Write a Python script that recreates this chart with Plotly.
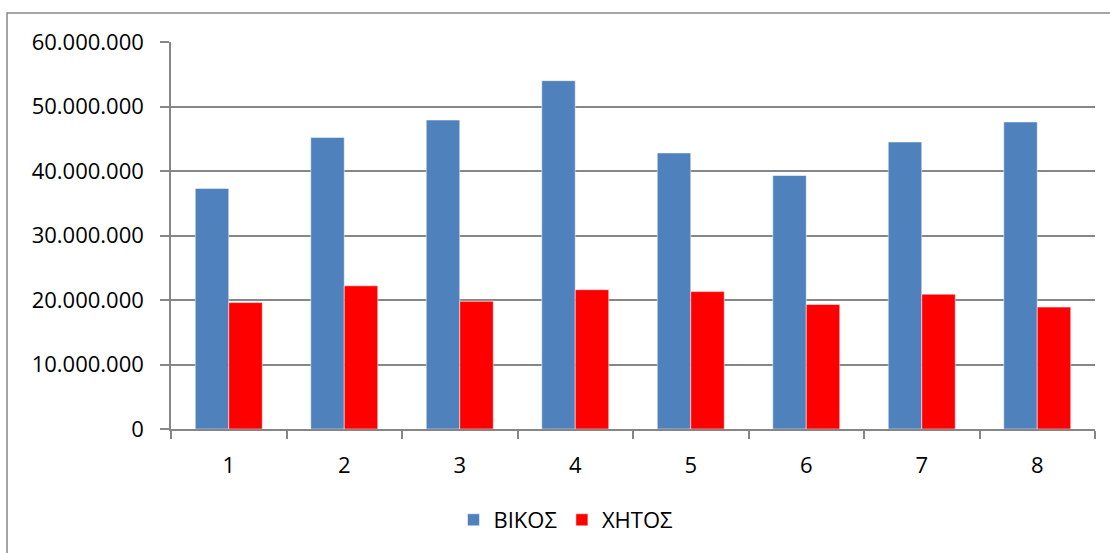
import plotly.graph_objects as go

categories = ["1", "2", "3", "4", "5", "6", "7", "8"]
vikos = [37300000, 45200000, 47900000, 54000000, 42800000, 39300000, 44500000, 47600000]
xitos = [19600000, 22200000, 19800000, 21600000, 21300000, 19300000, 20900000, 18900000]
y_ticks = [0, 10000000, 20000000, 30000000, 40000000, 50000000, 60000000]

W, H = 1110, 553
L, R, T, B = 171, 15, 42, 124
pw, ph = W - L - R, H - T - B

FONT = "Open Sans"
GRID = "#868686"

fig = go.Figure()
fig.add_trace(go.Bar(x=categories, y=vikos, name="ΒΙΚΟΣ",
                     marker=dict(color="#4F81BD", line=dict(color="rgba(255,255,255,0.5)", width=1))))
fig.add_trace(go.Bar(x=categories, y=xitos, name="ΧΗΤΟΣ",
                     marker=dict(color="#FF0000", line=dict(color="rgba(255,255,255,0.5)", width=1))))

fig.update_layout(
    width=W, height=H,
    margin=dict(l=L, r=R, t=T, b=B, pad=0),
    paper_bgcolor="white", plot_bgcolor="white",
    barmode="group", bargap=0.42, bargroupgap=0,
    separators=",.",
    font=dict(family=FONT, size=22, color="black"),
    legend=dict(orientation="h", x=(566 - L) / pw, xanchor="center",
                y=(429 - 520) / ph, yanchor="middle",
                font=dict(family=FONT, size=22, color="black"),
                itemwidth=30, traceorder="normal"),
    xaxis=dict(type="category", showgrid=False, showline=True, linecolor=GRID, linewidth=1.5,
               ticks="outside", tickson="boundaries", ticklen=8, tickcolor=GRID, tickwidth=1.5,
               ticklabelstandoff=16, tickfont=dict(family=FONT, size=22, color="black")),
    yaxis=dict(range=[0, 60000000], tickvals=y_ticks, tickformat=",d",
               showgrid=True, gridcolor=GRID, gridwidth=1.5,
               showline=True, linecolor=GRID, linewidth=1.5, zeroline=False,
               ticks="outside", ticklen=9, tickcolor=GRID, tickwidth=1.5,
               ticklabelstandoff=12, tickfont=dict(family=FONT, size=22, color="black")),
    shapes=[dict(type="rect", xref="paper", yref="paper",
                 x0=(7 - L) / pw, x1=(1125 - L) / pw,
                 y0=-(B + 20) / ph, y1=1 + (T - 13) / ph,
                 line=dict(color=GRID, width=1.5), layer="below")],
)

fig.write_html("out.html")
